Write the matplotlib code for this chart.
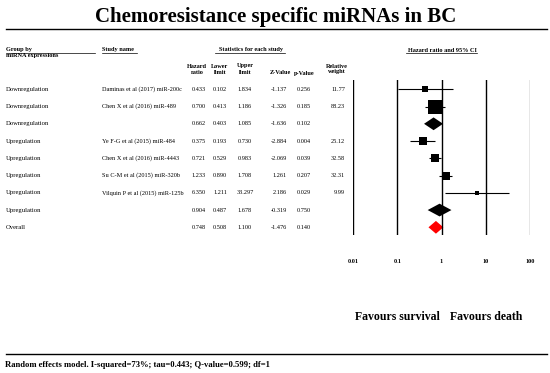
import matplotlib
matplotlib.use("Agg")
import matplotlib.pyplot as plt
import matplotlib.transforms as mtransforms
from matplotlib.lines import Line2D
from matplotlib.patches import Polygon
import numpy as np

plt.rcParams['font.family'] = ['Liberation Serif', 'DejaVu Serif']

# data
groups = ['Downregulation', 'Downregulation', 'Downregulation', 'Upregulation',
          'Upregulation', 'Upregulation', 'Upregulation', 'Upregulation', 'Overall']
studies = ['Daminas et al (2017) miR-200c', 'Chen X et al (2016) miR-489', '',
           'Ye F-G et al (2015) miR-484', 'Chen X et al (2016) miR-4443',
           'Su C-M et al (2015) miR-320b', 'Vilquin P et al (2015) miR-125b', '', '']
hr = [0.433, 0.700, 0.662, 0.375, 0.721, 1.233, 6.350, 0.904, 0.748]
lower = [0.102, 0.413, 0.403, 0.193, 0.529, 0.890, 1.211, 0.487, 0.508]
upper = [1.834, 1.186, 1.085, 0.730, 0.983, 1.708, 33.297, 1.678, 1.100]
zval = [-1.137, -1.326, -1.636, -2.884, -2.069, 1.261, 2.186, -0.319, -1.476]
pval = [0.256, 0.185, 0.102, 0.004, 0.039, 0.207, 0.029, 0.750, 0.140]
weight = [11.77, 88.23, None, 25.12, 32.58, 32.31, 9.99, None, None]
kind = ['study', 'study', 'sub', 'study', 'study', 'study', 'study', 'sub', 'overall']
ticks = [0.01, 0.1, 1, 10, 100]
tick_labels = ['0.01', '0.1', '1', '10', '100']

W, H = 550, 373
fig = plt.figure(figsize=(W / 100, H / 100), dpi=100)

def fx(x):
    return x / W

def fy(y):
    return 1 - y / H

# forest plot axes
ax = fig.add_axes([fx(353), fy(235), fx(530 - 353), (235 - 80) / H])
ax.set_xscale('log')
ax.set_xlim(0.01, 100)
ax.set_ylim(9.446, 0.461)
for s in ax.spines.values():
    s.set_visible(False)
ax.set_yticks([])
ax.set_xticks(ticks)
ax.set_xticklabels(tick_labels, fontsize=4.5, fontweight='bold')
ax.minorticks_off()
ax.tick_params(axis='x', length=0, pad=17)
for t in ticks:
    ax.axvline(t, color='#888888' if t == 100 else 'black', lw=1.0)

rows = np.arange(1, len(hr) + 1)
for i, r in enumerate(rows):
    if kind[i] == 'study':
        ax.hlines(r, lower[i], upper[i], color='black', lw=0.8)
        side = 1.49 * np.sqrt(weight[i]) * 0.72
        ax.plot(hr[i], r, marker='s', ms=side, color='black', mec='black', mew=0)
    else:
        h = 0.37
        c = 'red' if kind[i] == 'overall' else 'black'
        ax.add_patch(Polygon([(lower[i], r), (hr[i], r - h), (upper[i], r), (hr[i], r + h)],
                             closed=True, color=c, lw=0))

# table text, rows share the forest axes y scale
tr = mtransforms.blended_transform_factory(fig.transFigure, ax.transData)
fs = 4.5
for i, r in enumerate(rows):
    ax.text(fx(6), r, groups[i], transform=tr, fontsize=4.8, va='center', ha='left')
    ax.text(fx(102), r, studies[i], transform=tr, fontsize=fs, va='center', ha='left')
    ax.text(fx(199), r, '%.3f' % hr[i], transform=tr, fontsize=fs, va='center', ha='center')
    ax.text(fx(220), r, '%.3f' % lower[i], transform=tr, fontsize=fs, va='center', ha='center')
    ax.text(fx(245), r, '%.3f' % upper[i], transform=tr, fontsize=fs, va='center', ha='center')
    ax.text(fx(287), r, '%.3f' % zval[i], transform=tr, fontsize=fs, va='center', ha='right')
    ax.text(fx(304), r, '%.3f' % pval[i], transform=tr, fontsize=fs, va='center', ha='center')
    if weight[i] is not None:
        ax.text(fx(345), r, '%.2f' % weight[i], transform=tr, fontsize=fs, va='center', ha='right')

# headers
hb = dict(fontsize=fs, fontweight='bold', va='center')
fig.text(fx(6), fy(50), 'Group by', ha='left', **hb)
fig.text(fx(6), fy(55), 'miRNA expressions', ha='left', **hb)
fig.text(fx(102), fy(50), 'Study name', ha='left', **hb)
fig.text(fx(251), fy(50), 'Statistics for each study', ha='center', **hb)
fig.text(fx(442), fy(50), 'Hazard ratio and 95% CI', ha='center', **hb)
for x, l1, l2 in [(197, 'Hazard', 'ratio'), (220, 'Lower', 'limit'),
                  (245, 'Upper', 'limit'), (337, 'Relative', 'weight')]:
    fig.text(fx(x), fy(66), l1, ha='center', **hb)
    fig.text(fx(x), fy(72), l2, ha='center', **hb)
fig.text(fx(280), fy(73), 'Z-Value', ha='center', **hb)
fig.text(fx(304), fy(73), 'p-Value', ha='center', **hb)

for x0, x1, y, lw in [(6, 95, 52.7, 0.5), (102, 137, 52.7, 0.5), (215, 285, 52.7, 0.5),
                      (406, 477, 52.7, 0.5), (6, 547, 29.3, 1.0), (6, 547, 354, 1.0)]:
    fig.add_artist(Line2D([fx(x0), fx(x1)], [fy(y), fy(y)], color='black', lw=lw,
                          transform=fig.transFigure))

fig.text(fx(276), fy(17), 'Chemoresistance specific miRNAs in BC', ha='center', va='center',
         fontsize=15, fontweight='bold')
fig.text(fx(397), fy(317), 'Favours survival', ha='center', va='center', fontsize=8.5,
         fontweight='bold')
fig.text(fx(486), fy(317), 'Favours death', ha='center', va='center', fontsize=8.5,
         fontweight='bold')
fig.text(fx(5), fy(365), 'Random effects model. I-squared=73%; tau=0.443; Q-value=0.599; df=1',
         ha='left', va='center', fontsize=6.2, fontweight='bold')

fig.savefig('out.png', dpi=100)
